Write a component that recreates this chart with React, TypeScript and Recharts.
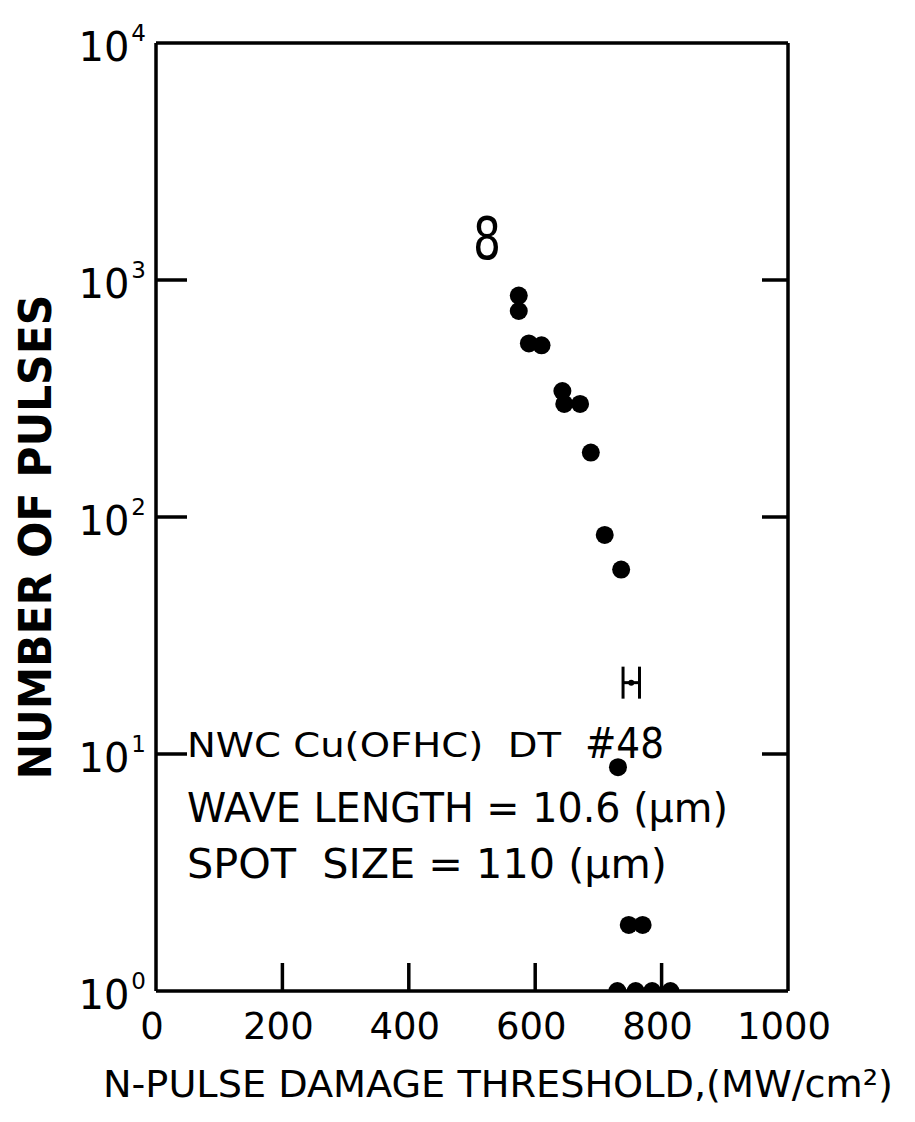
import React from "react";
import { ScatterChart, Scatter, XAxis, YAxis, ErrorBar, Customized } from "recharts";

// damage threshold (MW/cm^2) and number of pulses
const thresholds = [574, 574, 590, 610, 643, 646, 671, 688, 710, 736, 731, 748, 770, 730, 759, 785, 814];
const pulses = [860, 740, 540, 530, 340, 300, 300, 187, 84, 60, 8.8, 1.9, 1.9, 1, 1, 1, 1];

// the little "|-|" uncertainty marker
const errThreshold = [752];
const errPulses = [20];
const errHalfWidth = [13];

const xTicks = [0, 200, 400, 600, 800, 1000];
const yTicks = [1, 10, 100, 1000, 10000];

const points = thresholds.map((x, i) => ({ x, y: pulses[i] }));
const errPoints = errThreshold.map((x, i) => ({ x, y: errPulses[i], e: errHalfWidth[i] }));

const FONT = "'DejaVu Sans', sans-serif";
const INK = "#000";
const LW = 3.5;

const BottomTick = (props: any) => {
  const { x, y, payload } = props;
  const v = payload.value;
  return (
    <g>
      {v > 0 && v < 1000 && <line x1={x} y1={y} x2={x} y2={y - 28} stroke={INK} strokeWidth={LW} />}
      <text x={x - 4} y={y + 48} textAnchor="middle" fontSize={37} fontFamily={FONT} fill={INK}>{v}</text>
    </g>
  );
};

const TopTick = (props: any) => {
  const { x, y, payload } = props;
  const v = payload.value;
  if (v <= 0 || v >= 1000) return <g />;
  return <line x1={x} y1={y} x2={x} y2={y + 29} stroke={INK} strokeWidth={LW} />;
};

const LeftTick = (props: any) => {
  const { x, y, payload } = props;
  const exp = Math.round(Math.log10(payload.value));
  return (
    <g>
      {exp > 0 && exp < 4 && <line x1={x} y1={y} x2={x + 31} y2={y} stroke={INK} strokeWidth={LW} />}
      <text x={x - 10} y={y + 18} textAnchor="end" fontSize={40} fontFamily={FONT} fill={INK}>
        10<tspan dy={-20} dx={2} fontSize={23}>{exp}</tspan>
      </text>
    </g>
  );
};

const RightTick = (props: any) => {
  const { x, y, payload } = props;
  const exp = Math.round(Math.log10(payload.value));
  if (exp <= 0 || exp >= 4) return <g />;
  return <line x1={x} y1={y} x2={x - 26} y2={y} stroke={INK} strokeWidth={LW} />;
};

const Dot = (props: any) => <circle cx={props.cx} cy={props.cy} r={9} fill={INK} />;
const SmallDot = (props: any) => <circle cx={props.cx} cy={props.cy} r={3} fill={INK} />;

// titles and the sample notes
const Notes = () => (
  <g fontFamily={FONT} fill={INK}>
    <text x={43} y={529} transform="rotate(-90, 43, 529)" textAnchor="middle" fontSize={45} fontWeight="bold"
      textLength={485} lengthAdjust="spacingAndGlyphs">NUMBER OF PULSES</text>
    <text x={95} y={1089} fontSize={38} textLength={790} lengthAdjust="spacingAndGlyphs">N-PULSE DAMAGE THRESHOLD,(MW/cm²)</text>
    <text x={465} y={251} fontSize={58} textLength={28} lengthAdjust="spacingAndGlyphs">8</text>
    <text x={179} y={749} fontSize={33} textLength={374} lengthAdjust="spacingAndGlyphs" style={{ whiteSpace: "pre" }}>NWC Cu(OFHC)  DT</text>
    <text x={577} y={750} fontSize={43} textLength={79} lengthAdjust="spacingAndGlyphs">#48</text>
    <text x={179} y={814} fontSize={41} textLength={541} lengthAdjust="spacingAndGlyphs">WAVE LENGTH = 10.6 (µm)</text>
    <text x={179} y={870} fontSize={41} textLength={480} lengthAdjust="spacingAndGlyphs" style={{ whiteSpace: "pre" }}>SPOT  SIZE = 110 (µm)</text>
  </g>
);

export default function App() {
  return (
    <ScatterChart width={899} height={1100} margin={{ top: 25, right: 99, bottom: 57, left: 48 }}>
      <XAxis xAxisId="b" type="number" dataKey="x" domain={[0, 1000]} ticks={xTicks} allowDataOverflow
        orientation="bottom" height={60} tickSize={0} tickMargin={0} tickLine={false}
        axisLine={{ stroke: INK, strokeWidth: LW }} tick={<BottomTick />} interval={0} />
      <XAxis xAxisId="t" type="number" domain={[0, 1000]} ticks={xTicks} allowDataOverflow
        orientation="top" height={10} tickSize={0} tickMargin={0} tickLine={false}
        axisLine={{ stroke: INK, strokeWidth: LW }} tick={<TopTick />} interval={0} />
      <YAxis yAxisId="l" type="number" dataKey="y" scale="log" domain={[1, 10000]} ticks={yTicks} allowDataOverflow
        orientation="left" width={100} tickSize={0} tickMargin={0} tickLine={false}
        axisLine={{ stroke: INK, strokeWidth: LW }} tick={<LeftTick />} interval={0} />
      <YAxis yAxisId="r" type="number" scale="log" domain={[1, 10000]} ticks={yTicks} allowDataOverflow
        orientation="right" width={20} tickSize={0} tickMargin={0} tickLine={false}
        axisLine={{ stroke: INK, strokeWidth: LW }} tick={<RightTick />} interval={0} />
      <Scatter xAxisId="b" yAxisId="l" data={points} shape={<Dot />} isAnimationActive={false} />
      <Scatter xAxisId="b" yAxisId="l" data={errPoints} shape={<SmallDot />} isAnimationActive={false}>
        <ErrorBar dataKey="e" direction="x" width={16} stroke={INK} strokeWidth={3} />
      </Scatter>
      <Customized component={Notes} />
    </ScatterChart>
  );
}
